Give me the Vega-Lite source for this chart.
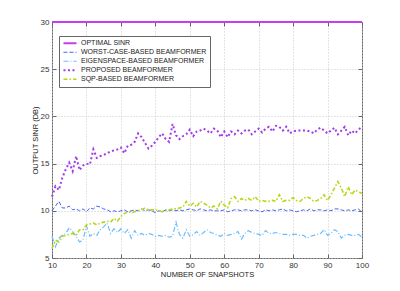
{
"$schema": "https://vega.github.io/schema/vega-lite/v6.json",
"width": 310, "height": 236,
"autosize": "none",
"padding": {"left": 52, "top": 22, "right": 38, "bottom": 33},
"config": {"view": {"stroke": "#666", "strokeWidth": 1}, "font": "Liberation Sans"},
"data": {"values": [
{"x":10,"o":30,"w":10.0,"e":7.3,"p":11.5,"q":6.0},
{"x":11,"o":30,"w":10.5,"e":6.2,"p":12.6,"q":6.9},
{"x":12,"o":30,"w":11.0,"e":7.1,"p":12.2,"q":6.7},
{"x":13,"o":30,"w":10.3,"e":7.4,"p":13.5,"q":7.3},
{"x":14,"o":30,"w":10.3,"e":7.6,"p":14.4,"q":7.4},
{"x":15,"o":30,"w":10.5,"e":8.2,"p":15.1,"q":7.5},
{"x":16,"o":30,"w":10.1,"e":7.8,"p":14.2,"q":7.6},
{"x":17,"o":30,"w":10.2,"e":7.3,"p":15.8,"q":7.4},
{"x":18,"o":30,"w":10.0,"e":6.7,"p":14.3,"q":8.0},
{"x":19,"o":30,"w":10.2,"e":6.9,"p":14.8,"q":8.0},
{"x":20,"o":30,"w":9.9,"e":8.4,"p":15.0,"q":8.5},
{"x":21,"o":30,"w":10.3,"e":7.3,"p":14.9,"q":8.6},
{"x":22,"o":30,"w":10.2,"e":7.6,"p":16.5,"q":8.7},
{"x":23,"o":30,"w":10.5,"e":7.4,"p":15.6,"q":8.5},
{"x":24,"o":30,"w":10.4,"e":8.0,"p":15.8,"q":8.7},
{"x":25,"o":30,"w":10.2,"e":8.3,"p":15.9,"q":8.8},
{"x":26,"o":30,"w":10.1,"e":8.7,"p":16.1,"q":8.9},
{"x":27,"o":30,"w":9.9,"e":7.6,"p":16.3,"q":8.8},
{"x":28,"o":30,"w":10.0,"e":8.1,"p":16.4,"q":9.2},
{"x":29,"o":30,"w":9.9,"e":7.7,"p":16.5,"q":8.9},
{"x":30,"o":30,"w":10.0,"e":8.1,"p":16.7,"q":9.4},
{"x":31,"o":30,"w":10.1,"e":7.6,"p":16.1,"q":9.7},
{"x":32,"o":30,"w":9.9,"e":8.0,"p":16.9,"q":9.9},
{"x":33,"o":30,"w":10.0,"e":7.1,"p":17.0,"q":9.8},
{"x":34,"o":30,"w":10.1,"e":7.9,"p":17.3,"q":9.9},
{"x":35,"o":30,"w":10.0,"e":7.4,"p":18.2,"q":10.0},
{"x":36,"o":30,"w":10.2,"e":7.6,"p":17.8,"q":10.1},
{"x":37,"o":30,"w":10.0,"e":7.4,"p":17.2,"q":10.3},
{"x":38,"o":30,"w":10.1,"e":7.6,"p":16.6,"q":10.1},
{"x":39,"o":30,"w":10.0,"e":7.5,"p":16.9,"q":10.1},
{"x":40,"o":30,"w":9.8,"e":7.3,"p":17.3,"q":10.1},
{"x":41,"o":30,"w":10.0,"e":7.4,"p":17.8,"q":10.0},
{"x":42,"o":30,"w":9.9,"e":7.3,"p":18.2,"q":9.9},
{"x":43,"o":30,"w":10.1,"e":7.4,"p":17.6,"q":10.0},
{"x":44,"o":30,"w":10.0,"e":7.2,"p":17.3,"q":10.1},
{"x":45,"o":30,"w":10.1,"e":7.3,"p":19.2,"q":10.2},
{"x":46,"o":30,"w":10.0,"e":8.8,"p":18.0,"q":10.2},
{"x":47,"o":30,"w":10.1,"e":7.5,"p":17.6,"q":10.3},
{"x":48,"o":30,"w":10.0,"e":7.1,"p":17.9,"q":10.4},
{"x":49,"o":30,"w":10.1,"e":8.0,"p":18.1,"q":11.0},
{"x":50,"o":30,"w":10.2,"e":7.3,"p":18.6,"q":10.5},
{"x":51,"o":30,"w":10.1,"e":7.5,"p":17.9,"q":10.8},
{"x":52,"o":30,"w":10.0,"e":7.8,"p":18.4,"q":10.4},
{"x":53,"o":30,"w":10.2,"e":7.4,"p":18.5,"q":11.0},
{"x":54,"o":30,"w":10.1,"e":7.7,"p":18.7,"q":10.8},
{"x":55,"o":30,"w":10.0,"e":8.0,"p":18.5,"q":10.6},
{"x":56,"o":30,"w":10.1,"e":7.7,"p":18.2,"q":10.3},
{"x":57,"o":30,"w":10.0,"e":7.6,"p":18.7,"q":10.5},
{"x":58,"o":30,"w":10.0,"e":7.4,"p":18.5,"q":10.2},
{"x":59,"o":30,"w":10.0,"e":7.3,"p":17.8,"q":11.0},
{"x":60,"o":30,"w":10.1,"e":7.6,"p":18.4,"q":10.6},
{"x":61,"o":30,"w":9.9,"e":7.4,"p":17.8,"q":10.3},
{"x":62,"o":30,"w":10.0,"e":7.5,"p":18.4,"q":11.3},
{"x":63,"o":30,"w":10.1,"e":7.6,"p":18.1,"q":11.5},
{"x":64,"o":30,"w":10.1,"e":7.8,"p":18.5,"q":11.0},
{"x":65,"o":30,"w":10.0,"e":7.0,"p":18.2,"q":11.3},
{"x":66,"o":30,"w":10.1,"e":7.6,"p":18.5,"q":11.1},
{"x":67,"o":30,"w":10.1,"e":7.9,"p":18.6,"q":11.3},
{"x":68,"o":30,"w":10.0,"e":7.7,"p":18.1,"q":11.1},
{"x":69,"o":30,"w":10.1,"e":7.6,"p":18.4,"q":11.5},
{"x":70,"o":30,"w":10.0,"e":7.5,"p":18.7,"q":11.0},
{"x":71,"o":30,"w":9.9,"e":7.4,"p":18.3,"q":11.1},
{"x":72,"o":30,"w":10.1,"e":7.9,"p":18.7,"q":11.0},
{"x":73,"o":30,"w":10.0,"e":7.6,"p":18.9,"q":11.0},
{"x":74,"o":30,"w":10.1,"e":7.6,"p":18.4,"q":11.1},
{"x":75,"o":30,"w":10.0,"e":7.7,"p":19.0,"q":11.0},
{"x":76,"o":30,"w":10.1,"e":7.6,"p":18.9,"q":11.7},
{"x":77,"o":30,"w":10.2,"e":7.5,"p":18.5,"q":11.0},
{"x":78,"o":30,"w":10.0,"e":7.5,"p":18.9,"q":11.1},
{"x":79,"o":30,"w":10.1,"e":7.4,"p":18.2,"q":11.1},
{"x":80,"o":30,"w":10.0,"e":7.5,"p":18.4,"q":11.4},
{"x":81,"o":30,"w":9.9,"e":7.5,"p":18.5,"q":11.1},
{"x":82,"o":30,"w":10.0,"e":7.4,"p":18.5,"q":11.0},
{"x":83,"o":30,"w":10.1,"e":7.4,"p":18.5,"q":11.3},
{"x":84,"o":30,"w":10.0,"e":7.1,"p":18.5,"q":11.5},
{"x":85,"o":30,"w":10.2,"e":7.3,"p":18.4,"q":11.3},
{"x":86,"o":30,"w":10.0,"e":7.4,"p":18.2,"q":11.0},
{"x":87,"o":30,"w":10.1,"e":7.5,"p":18.6,"q":11.1},
{"x":88,"o":30,"w":10.1,"e":7.6,"p":18.8,"q":11.3},
{"x":89,"o":30,"w":10.0,"e":8.0,"p":18.5,"q":11.7},
{"x":90,"o":30,"w":10.1,"e":7.4,"p":18.2,"q":11.1},
{"x":91,"o":30,"w":10.0,"e":7.6,"p":18.5,"q":11.7},
{"x":92,"o":30,"w":10.2,"e":8.0,"p":18.8,"q":12.4},
{"x":93,"o":30,"w":10.2,"e":7.8,"p":18.1,"q":13.1},
{"x":94,"o":30,"w":10.1,"e":7.1,"p":18.5,"q":12.4},
{"x":95,"o":30,"w":10.0,"e":7.4,"p":18.9,"q":11.5},
{"x":96,"o":30,"w":10.1,"e":7.5,"p":18.0,"q":12.55},
{"x":97,"o":30,"w":10.0,"e":7.4,"p":18.5,"q":11.7},
{"x":98,"o":30,"w":10.1,"e":7.4,"p":18.2,"q":12.2},
{"x":99,"o":30,"w":10.2,"e":7.5,"p":18.6,"q":12.0},
{"x":100,"o":30,"w":9.8,"e":7.2,"p":18.9,"q":11.85}
]},
"transform": [{"fold": ["o", "w", "e", "p", "q"], "as": ["s", "y"]}],
"layer": [
{
"mark": {"type": "line", "clip": false},
"encoding": {
"x": {"field": "x", "type": "quantitative", "scale": {"domain": [10, 100], "nice": false},
 "axis": {"title": "NUMBER OF SNAPSHOTS", "values": [10,20,30,40,50,60,70,80,90,100], "domain": false, "tickSize": -4, "tickColor": "#666", "labelPadding": 7, "labelFontSize": 8, "labelColor": "#333", "titleFontSize": 7.5, "titleFontWeight": "normal", "titleColor": "#222", "titlePadding": 1, "gridDash": [1, 2], "gridColor": "#c8c8c8", "labelFlush": false}},
"y": {"field": "y", "type": "quantitative", "scale": {"domain": [5, 30], "nice": false},
 "axis": {"title": "OUTPUT SINR (DB)", "values": [5,10,15,20,25,30], "domain": false, "tickSize": -4, "tickColor": "#666", "labelPadding": 7, "labelFontSize": 8, "labelColor": "#333", "titleFontSize": 7.5, "titleFontWeight": "normal", "titleColor": "#222", "titlePadding": 1, "gridDash": [1, 2], "gridColor": "#c8c8c8"}},
"color": {"field": "s", "type": "nominal",
 "scale": {"domain": ["o", "w", "e", "p", "q"], "range": ["#c63cf5", "#4a63f0", "#6cbcff", "#a23be8", "#b5d81a"]},
 "legend": {"title": null, "orient": "none", "legendX": 7, "legendY": 14, "strokeColor": "#666", "fillColor": "#fff", "padding": 3, "labelFontSize": 7, "labelColor": "#222", "symbolType": "stroke", "symbolSize": 170, "rowPadding": 0, "clipHeight": 8.5, "labelOffset": 3,
  "labelExpr": "{'o':'OPTIMAL SINR','w':'WORST-CASE-BASED BEAMFORMER','e':'EIGENSPACE-BASED BEAMFORMER','p':'PROPOSED BEAMFORMER','q':'SQP-BASED BEAMFORMER'}[datum.value]"}},
"strokeDash": {"field": "s", "type": "nominal",
 "scale": {"domain": ["o", "w", "e", "p", "q"], "range": [[1, 0], [4, 2], [5, 2, 1, 2], [2, 2.5], [4, 2, 1.5, 2]]}},
"strokeWidth": {"field": "s", "type": "nominal",
 "scale": {"type": "ordinal", "domain": ["o", "w", "e", "p", "q"], "range": [2, 1, 1.2, 2, 1.6]}}
}
},
{
"mark": {"type": "line", "opacity": 0},
"encoding": {
"x": {"field": "x", "type": "quantitative", "scale": {"domain": [10, 100], "nice": false},
 "axis": {"orient": "top", "title": null, "labels": false, "grid": false, "domain": false, "values": [10,20,30,40,50,60,70,80,90,100], "tickSize": -4, "tickColor": "#666"}},
"y": {"field": "y", "type": "quantitative", "scale": {"domain": [5, 30], "nice": false},
 "axis": {"orient": "right", "title": null, "labels": false, "grid": false, "domain": false, "values": [5,10,15,20,25,30], "tickSize": -4, "tickColor": "#666"}},
"detail": {"field": "s", "type": "nominal"}
}
}
],
"resolve": {"axis": {"x": "independent", "y": "independent"}}
}
